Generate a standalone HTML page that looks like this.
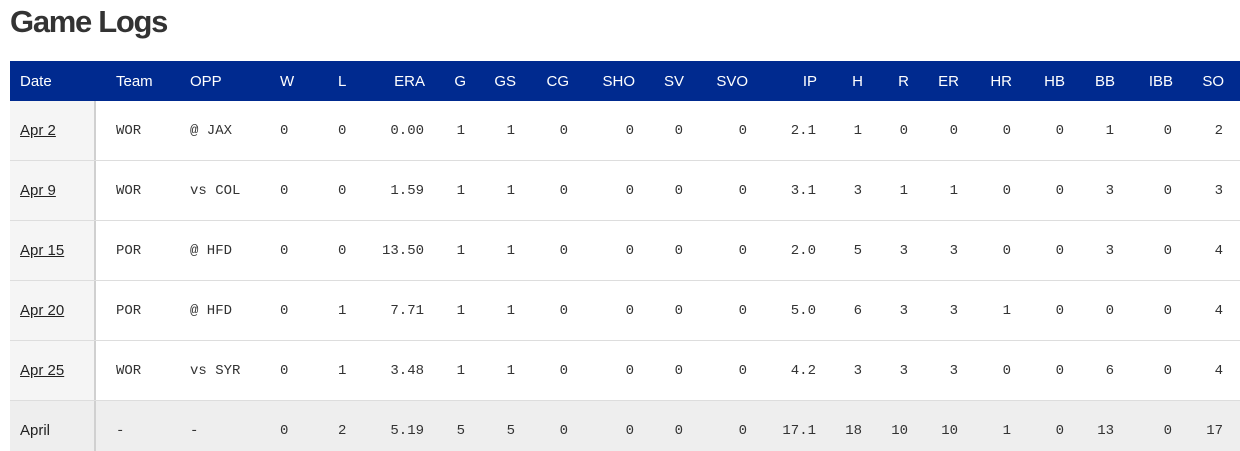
<!DOCTYPE html>
<html><head><meta charset="utf-8"><style>
body{margin:0;width:1240px;height:450px;background:#fff;overflow:hidden;position:relative;font-family:"Liberation Sans",sans-serif}
h1{position:absolute;left:10px;top:4px;margin:0;font-size:31px;font-weight:bold;color:#333;letter-spacing:-1.3px}
.hdr{position:absolute;left:10px;top:61px;width:1230px;height:40px;background:#002a8f}
.row{position:absolute;left:10px;width:1230px;height:59px;border-bottom:1px solid #ddd}
.row.tot{background:#eee;border-bottom:none;height:50px}
.dc{position:absolute;left:0;top:0;width:84px;height:100%;background:#f5f5f5;border-right:2px solid #d0d0d0}
.c{position:absolute;white-space:nowrap}
.hdr .c{color:#fff;font-size:15px;top:12px}
.row .c{font-family:"Liberation Mono",monospace;font-size:14px;color:#333;top:22px}
.row .c.d{font-family:"Liberation Sans",sans-serif;font-size:15px;color:#222;text-decoration:underline;top:21px}
.row.tot .c.d{text-decoration:none}
.r{text-align:right}
</style></head><body>
<h1>Game Logs</h1>
<div id="t"></div>
<script>
var cols=[["Date",10,"l"],["Team",106,"l"],["OPP",180,"l"],["W",270,"l"],["L",328,"l"],["ERA",415,"r"],["G",456,"r"],["GS",506,"r"],["CG",559,"r"],["SHO",625,"r"],["SV",674,"r"],["SVO",738,"r"],["IP",807,"r"],["H",853,"r"],["R",899,"r"],["ER",949,"r"],["HR",1002,"r"],["HB",1055,"r"],["BB",1105,"r"],["IBB",1163,"r"],["SO",1214,"r"]];
var rows=[
["Apr 2","WOR","@ JAX","0","0","0.00","1","1","0","0","0","0","2.1","1","0","0","0","0","1","0","2"],
["Apr 9","WOR","vs COL","0","0","1.59","1","1","0","0","0","0","3.1","3","1","1","0","0","3","0","3"],
["Apr 15","POR","@ HFD","0","0","13.50","1","1","0","0","0","0","2.0","5","3","3","0","0","3","0","4"],
["Apr 20","POR","@ HFD","0","1","7.71","1","1","0","0","0","0","5.0","6","3","3","1","0","0","0","4"],
["Apr 25","WOR","vs SYR","0","1","3.48","1","1","0","0","0","0","4.2","3","3","3","0","0","6","0","4"],
["April","-","-","0","2","5.19","5","5","0","0","0","0","17.1","18","10","10","1","0","13","0","17"]];
function cell(txt,c,extra){
 if(c[2]=="l")return '<div class="c '+extra+'" style="left:'+c[1]+'px">'+txt+'</div>';
 return '<div class="c r '+extra+'" style="right:'+(1230-c[1])+'px">'+txt+'</div>';
}
var h='<div class="hdr">';
cols.forEach(function(c){h+=cell(c[0],c,"")});
h+='</div>';
rows.forEach(function(r,i){
 var tot=i==5;
 h+='<div class="row'+(tot?' tot':'')+'" style="top:'+(101+i*60)+'px">'+(tot?'':'<div class="dc"></div>');
 if(tot)h+='<div class="dc" style="background:#eee"></div>';
 r.forEach(function(v,j){var c=cols[j].slice();if(j>0&&cols[j][2]=="r")c[1]=cols[j][1]-1;h+=cell(v,c,j==0?"d":"")});
 h+='</div>';
});
document.getElementById("t").innerHTML=h;
</script>
</body></html>
